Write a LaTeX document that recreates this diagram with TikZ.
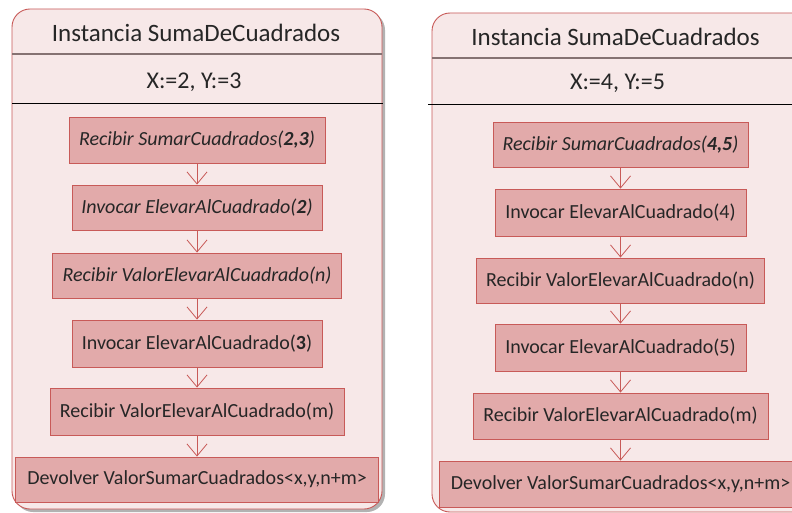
\documentclass[tikz,border=0pt]{standalone}
\usepackage{fontspec}
\setmainfont{Carlito}
\usetikzlibrary{arrows.meta}
\definecolor{frameline}{HTML}{C85A58}
\definecolor{framefill}{HTML}{F7E8E8}
\definecolor{boxfill}{HTML}{E2AAAA}
\definecolor{txt}{HTML}{262626}
\definecolor{sepgray}{HTML}{857272}
\begin{document}
\begin{tikzpicture}[x=1pt,y=-1pt,
  frame/.style={draw=frameline, fill=framefill, line width=0.9pt, rounded corners=18pt},
  shade/.style={fill=black, opacity=0.3, rounded corners=18pt},
  titletext/.style={text=txt, font=\fontsize{25}{30}\selectfont, inner sep=0pt},
  vartext/.style={text=txt, font=\fontsize{24}{29}\selectfont, inner sep=0pt},
  stepbox/.style={draw=frameline, fill=boxfill, text=txt, line width=0.9pt,
    font=\fontsize{20}{24}\selectfont, inner sep=0pt},
  flow/.style={draw=frameline, line width=0.8pt, -{Straight Barb[length=12pt,width=20pt,line width=0.8pt]}},
  sepline/.style={draw=sepgray, line width=1.2pt},
  blackline/.style={draw=black, line width=0.9pt}]
\useasboundingbox (0,0) rectangle (792,513);
\clip (0,0) rectangle (792,513);
\fill[white] (0,0) rectangle (792,513);

% ---- left instance ----
\fill[shade] (15,12) rectangle (385,512);
\path[frame] (12,9) rectangle (382,509);
\draw[sepline] (12,54) -- (382,54);
\draw[blackline] (12,103) -- (383,103);
\node[titletext] (t1) at (196,33) {Instancia SumaDeCuadrados};
\node[vartext] (v1) at (194,82) {X:=2, Y:=3};

\node[stepbox, minimum width=256pt, minimum height=46pt] (a1) at (197,140)
  {\textit{Recibir SumarCuadrados(\textbf{2,3})}};
\node[stepbox, minimum width=250pt, minimum height=45pt] (a2) at (197,207.5)
  {\textit{Invocar ElevarAlCuadrado(\textbf{2})}};
\node[stepbox, minimum width=289pt, minimum height=45pt] (a3) at (197,275.5)
  {\textit{Recibir ValorElevarAlCuadrado(n)}};
\node[stepbox, minimum width=250pt, minimum height=47pt] (a4) at (197,343.5)
  {Invocar ElevarAlCuadrado(\textbf{3})};
\node[stepbox, minimum width=294pt, minimum height=47pt] (a5) at (197,411.5)
  {Recibir ValorElevarAlCuadrado(m)};
\node[stepbox, minimum width=363pt, minimum height=45pt] (a6) at (197,479.5)
  {Devolver ValorSumarCuadrados<x,y,n+m>};
\foreach \p/\q in {a1/a2,a2/a3,a3/a4,a4/a5,a5/a6}
  \draw[flow] (\p) -- (\q);

% ---- right instance ----
\path[frame] (432,13) rectangle (820,512);
\draw[sepline] (432,58) -- (792,58);
\draw[blackline] (428,104) -- (792,104);
\node[titletext] (t2) at (615.5,37) {Instancia SumaDeCuadrados};
\node[vartext] (v2) at (617.5,83) {X:=4, Y:=5};

\node[stepbox, minimum width=255pt, minimum height=45pt] (b1) at (620.5,144.5)
  {\textit{Recibir SumarCuadrados(\textbf{4,5})}};
\node[stepbox, minimum width=251pt, minimum height=47pt] (b2) at (620.5,212.5)
  {Invocar ElevarAlCuadrado(4)};
\node[stepbox, minimum width=288pt, minimum height=45pt] (b3) at (620.5,280.5)
  {Recibir ValorElevarAlCuadrado(n)};
\node[stepbox, minimum width=251pt, minimum height=47pt] (b4) at (620.5,347.5)
  {Invocar ElevarAlCuadrado(5)};
\node[stepbox, minimum width=295pt, minimum height=46pt] (b5) at (620.5,416)
  {Recibir ValorElevarAlCuadrado(m)};
\node[stepbox, minimum width=362pt, minimum height=46pt] (b6) at (620.5,484)
  {Devolver ValorSumarCuadrados<x,y,n+m>};
\foreach \p/\q in {b1/b2,b2/b3,b3/b4,b4/b5,b5/b6}
  \draw[flow] (\p) -- (\q);
\end{tikzpicture}
\end{document}
